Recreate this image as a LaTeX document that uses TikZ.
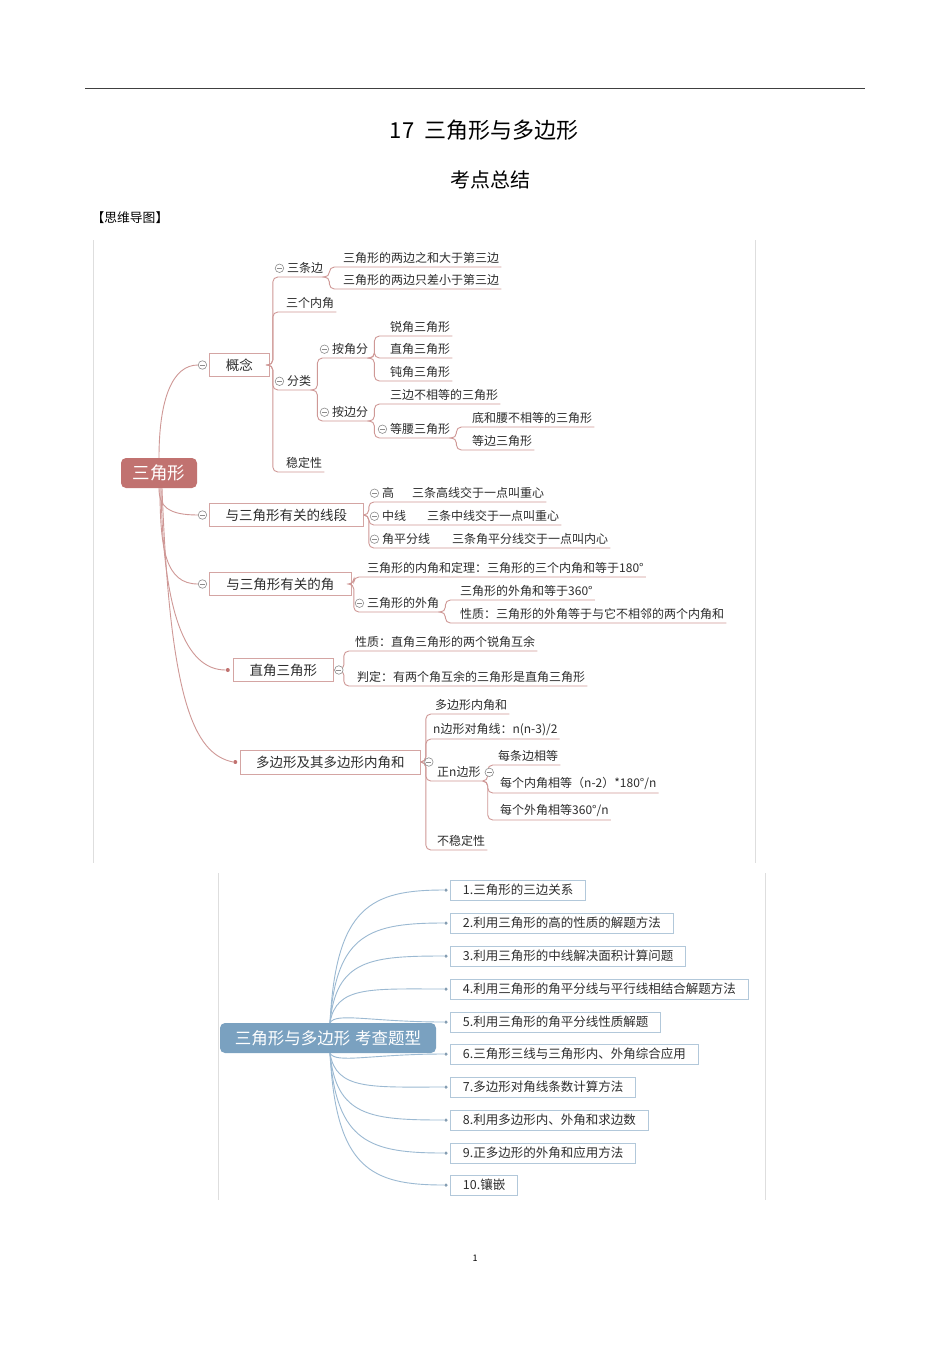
\documentclass[tikz,border=0pt]{standalone}
\usepackage{fontspec}
\setmainfont{Noto Sans CJK SC}
\usepackage{xcolor}
\usepackage{tikz}
\usetikzlibrary{positioning}

\definecolor{rootred}{RGB}{193,114,112}
\definecolor{linered}{RGB}{207,152,150}
\definecolor{boxred}{RGB}{212,165,163}
\definecolor{rootblue}{RGB}{122,161,192}
\definecolor{lineblue}{RGB}{155,185,210}
\definecolor{boxblue}{RGB}{178,200,218}
\definecolor{foldgray}{RGB}{140,140,140}
\definecolor{framegray}{RGB}{222,222,222}
\definecolor{txt}{RGB}{45,45,45}

\begin{document}
\begin{tikzpicture}[x=1pt,y=-1pt]
        \tikzstyle{leaf}=[anchor=south west, inner xsep=2pt, inner ysep=3pt, text=txt, font=\fontsize{12}{12}\selectfont]
        \tikzstyle{topic}=[draw=boxred, fill=white, line width=0.8pt, text=txt, inner sep=0pt, minimum height=23pt, anchor=west, font=\fontsize{13.5}{14}\selectfont]
        \tikzstyle{tline}=[draw=linered, line width=0.9pt, rounded corners=5pt]
        \tikzstyle{rline}=[draw=linered, line width=0.9pt]
        \tikzstyle{bline}=[draw=lineblue, line width=0.9pt]
        \tikzstyle{fold}=[circle, draw=foldgray, fill=white, line width=0.6pt, inner sep=0pt, minimum size=8.5pt, path picture={\draw[foldgray, line width=0.6pt] ([xshift=-2.4pt]path picture bounding box.center) -- ([xshift=2.4pt]path picture bounding box.center);}]
        \tikzstyle{rdot}=[circle, fill=rootred, inner sep=0pt, minimum size=4pt]
        \tikzstyle{bdot}=[circle, fill=lineblue!85!black, inner sep=0pt, minimum size=3.5pt]
        \tikzstyle{qbox}=[draw=boxblue, fill=white, line width=0.8pt, anchor=west, inner xsep=12.5pt, minimum height=20pt, text=txt, font=\fontsize{12.5}{13}\selectfont]
        \useasboundingbox (0,0) rectangle (950,1345);
        \fill [white] (0,0) rectangle (950,1345);

        % page head
        \draw [black!75, line width=0.9pt] (85,88) -- (865,88);
        \node [font=\fontsize{22}{22}\selectfont] (ttl) at (484,130) {17\hspace{0.45em}三角形与多边形};
        \node [font=\fontsize{20}{20}\selectfont] (sub) at (490,180) {考点总结};
        \node [anchor=west, font=\fontsize{12.8}{13}\selectfont] (tag) at (88,218) {【思维导图】};
        \node [font=\fontsize{9}{9}\selectfont] (pg) at (475,1258) {1};

        % frames of the two maps
        \draw [framegray] (93,240) -- (93,863);
        \draw [framegray] (755,240) -- (755,863);
        \draw [framegray] (218,873) -- (218,1200);
        \draw [framegray] (765,873) -- (765,1200);

        % first map
        \node [fill=rootred, rounded corners=5pt, text=white, minimum width=76pt, minimum height=30pt, font=\fontsize{17.5}{18}\selectfont] (tri) at (159,473) {三角形};
        \node [topic, minimum width=60pt] (gn) at (209,365) {概念};
        \node [topic, minimum width=154pt] (xd) at (209,515) {与三角形有关的线段};
        \node [topic, minimum width=142pt] (jd) at (209,584) {与三角形有关的角};
        \node [topic, minimum width=100pt] (zj) at (233,670) {直角三角形};
        \node [topic, minimum width=180pt, minimum height=24pt] (dbx) at (240,762) {多边形及其多边形内角和};
        \node [fold, left=2pt of gn] (gnf) {};
        \node [fold, left=2pt of xd] (xdf) {};
        \node [fold, left=2pt of jd] (jdf) {};
        \node [rdot, left=3pt of zj] (zjd) {};
        \node [rdot, left=2.5pt of dbx] (dbxd) {};

        \draw [rline] (tri.north) .. controls +(0,-60) and +(-25,0) .. (gnf.west);
        \draw [rline] (tri.south) .. controls +(0,18) and +(-30,0) .. (xdf.west);
        \draw [rline] ([xshift=1pt]tri.south) .. controls +(0,62) and +(-32,0) .. (jdf.west);
        \draw [rline] ([xshift=2pt]tri.south) .. controls +(2,125) and +(-40,0) .. (zjd.west);
        \draw [rline] ([xshift=3pt]tri.south) .. controls +(8,210) and +(-40,-8) .. (dbxd.west);

        % 概念
        \node [leaf] (sbb) at (285,277) {三条边};
        \node [leaf] (sbb1) at (341,267) {三角形的两边之和大于第三边};
        \node [leaf] (sbb2) at (341,289) {三角形的两边只差小于第三边};
        \node [leaf] (sgnj) at (284,312) {三个内角};
        \node [leaf] (fl) at (285,390) {分类};
        \node [leaf] (ajf) at (330,358) {按角分};
        \node [leaf] (rj) at (388,336) {锐角三角形};
        \node [leaf] (zjs) at (388,358) {直角三角形};
        \node [leaf] (dj) at (388,381) {钝角三角形};
        \node [leaf] (abf) at (330,421) {按边分};
        \node [leaf] (bdb) at (388,404) {三边不相等的三角形};
        \node [leaf] (dy) at (388,438) {等腰三角形};
        \node [leaf] (dy1) at (470,427) {底和腰不相等的三角形};
        \node [leaf] (dy2) at (470,450) {等边三角形};
        \node [leaf] (wdx) at (284,472) {稳定性};
        \draw [tline] (gn.east) -- ++(3,0) |- (sbb.south east);
        \draw [tline] (gn.east) -- ++(3,0) |- (sgnj.south east);
        \draw [tline] (gn.east) -- ++(3,0) |- (fl.south east);
        \draw [tline] (gn.east) -- ++(3,0) |- (wdx.south east);
        \draw [tline] (sbb.south east) -- ++(4,0) |- (sbb1.south east);
        \draw [tline] (sbb.south east) -- ++(4,0) |- (sbb2.south east);
        \draw [tline] (fl.south east) -- ++(4,0) |- (ajf.south east);
        \draw [tline] (fl.south east) -- ++(4,0) |- (abf.south east);
        \draw [tline] (ajf.south east) -- ++(4,0) |- (rj.south east);
        \draw [tline] (ajf.south east) -- ++(4,0) |- (zjs.south east);
        \draw [tline] (ajf.south east) -- ++(4,0) |- (dj.south east);
        \draw [tline] (abf.south east) -- ++(4,0) |- (bdb.south east);
        \draw [tline] (abf.south east) -- ++(4,0) |- (dy.south east);
        \draw [tline] (dy.south east) -- ++(4,0) |- (dy1.south east);
        \draw [tline] (dy.south east) -- ++(4,0) |- (dy2.south east);

        % 与三角形有关的线段
        \node [leaf] (gx) at (380,502) {高\hspace{18pt}三条高线交于一点叫重心};
        \node [leaf] (zx) at (380,525) {中线\hspace{21pt}三条中线交于一点叫重心};
        \node [leaf] (jpf) at (380,548) {角平分线\hspace{22pt}三条角平分线交于一点叫内心};
        \draw [tline] (xd.east) -- ++(5,0) |- (gx.south east);
        \draw [tline] (xd.east) -- ++(5,0) |- (zx.south east);
        \draw [tline] (xd.east) -- ++(5,0) |- (jpf.south east);

        % 与三角形有关的角
        \node [leaf] (nj) at (365,577) {三角形的内角和定理：三角形的三个内角和等于180°};
        \node [leaf] (wj) at (365,612) {三角形的外角};
        \node [leaf] (wj1) at (458,600) {三角形的外角和等于360°};
        \node [leaf] (wj2) at (458,623) {性质：三角形的外角等于与它不相邻的两个内角和};
        \draw [tline] (jd.east) -- ++(2,0) |- (nj.south east);
        \draw [tline] (jd.east) -- ++(2,0) |- (wj.south east);
        \draw [tline] (wj.south east) -- ++(4,0) |- (wj1.south east);
        \draw [tline] (wj.south east) -- ++(4,0) |- (wj2.south east);

        % 直角三角形
        \node [leaf] (zjx) at (353,651) {性质：直角三角形的两个锐角互余};
        \node [leaf] (zjp) at (355,686) {判定：有两个角互余的三角形是直角三角形};
        \draw [tline] (zj.east) -- ++(10,0) |- (zjx.south east);
        \draw [tline] (zj.east) -- ++(10,0) |- (zjp.south east);

        % 多边形及其多边形内角和
        \node [leaf] (dnj) at (433,714) {多边形内角和};
        \node [leaf] (djx) at (431,739) {n边形对角线：n(n-3)/2};
        \node [leaf] (zn) at (435,781) {正n边形};
        \node [leaf] (bwd) at (435,850) {不稳定性};
        \node [leaf] (zn1) at (496,765) {每条边相等};
        \node [leaf] (zn2) at (498,793) {每个内角相等（n-2）*180°/n};
        \node [leaf] (zn3) at (498,820) {每个外角相等360°/n};
        \draw [tline] (dbx.east) -- ++(5,0) |- (dnj.south east);
        \draw [tline] (dbx.east) -- ++(5,0) |- (djx.south east);
        \draw [tline] (dbx.east) -- ++(5,0) |- (zn.south east);
        \draw [tline] (dbx.east) -- ++(5,0) |- (bwd.south east);
        \draw [tline] (zn.south east) -- ++(5,0) |- (zn1.south east);
        \draw [tline] (zn.south east) -- ++(5,0) |- (zn2.south east);
        \draw [tline] (zn.south east) -- ++(5,0) |- (zn3.south east);

        % fold marks in front of the lines
        \node [fold, left=1pt of sbb] {};
        \node [fold, left=1pt of fl] {};
        \node [fold, left=1pt of ajf] {};
        \node [fold, left=1pt of abf] {};
        \node [fold, left=1pt of dy] {};
        \node [fold, left=1pt of gx] {};
        \node [fold, left=1pt of zx] {};
        \node [fold, left=1pt of jpf] {};
        \node [fold, left=1pt of wj] {};
        \node [fold, right=0.5pt of zj] {};
        \node [fold, right=3.5pt of dbx] {};
        \node [fold, right=2pt of zn] {};

        % second map
        \node [fill=rootblue, rounded corners=5pt, text=white, minimum width=216pt, minimum height=30pt, font=\fontsize{16.5}{17}\selectfont] (kc) at (328,1038) {三角形与多边形\hspace{0.3em}考查题型};
        \foreach \i/\yy/\t in {1/890/{1.三角形的三边关系},
                               2/923/{2.利用三角形的高的性质的解题方法},
                               3/956/{3.利用三角形的中线解决面积计算问题},
                               4/989/{4.利用三角形的角平分线与平行线相结合解题方法},
                               5/1022/{5.利用三角形的角平分线性质解题},
                               6/1054/{6.三角形三线与三角形内、外角综合应用},
                               7/1087/{7.多边形对角线条数计算方法},
                               8/1120/{8.利用多边形内、外角和求边数},
                               9/1153/{9.正多边形的外角和应用方法},
                               10/1185/{10.镶嵌}}{
            \node [qbox] (q\i) at (450,\yy) {\t};
            \node [bdot] (p\i) at (446,\yy) {};
        }
        \foreach \i/\yy in {1/890,2/923,3/956,4/989,5/1022}
            \draw [bline] ([xshift=2pt]kc.north) .. controls +(6,{(\yy-1023)*0.8-10}) and +(-75,0) .. (p\i);
        \foreach \i/\yy in {6/1054,7/1087,8/1120,9/1153,10/1185}
            \draw [bline] ([xshift=2pt]kc.south) .. controls +(6,{(\yy-1053)*0.8+10}) and +(-75,0) .. (p\i);
    \end{tikzpicture}
\end{document}
